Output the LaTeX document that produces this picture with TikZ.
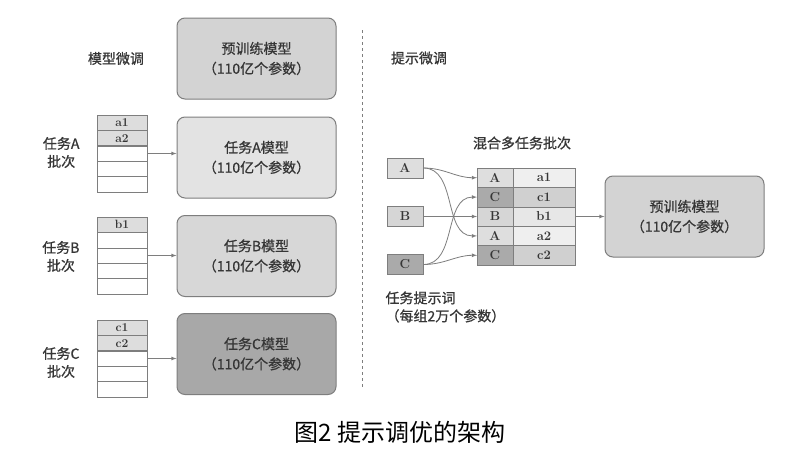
\documentclass[tikz,border=0pt]{standalone}
\usepackage{fontspec}
\newfontfamily\cjk{Noto Sans CJK SC}
\newfontfamily\cjkb[FakeBold=0.8]{Noto Sans CJK SC}
\usetikzlibrary{positioning}

\definecolor{linegray}{HTML}{7E7E7E}
\definecolor{txtgray}{HTML}{363636}
\definecolor{pregray}{HTML}{D3D3D3}
\definecolor{agray}{HTML}{E3E3E3}
\definecolor{bgray}{HTML}{D7D7D7}
\definecolor{cgray}{HTML}{A8A8A8}
\definecolor{cellgray}{HTML}{DDDDDD}
\definecolor{lightkey}{HTML}{DEDEDE}
\definecolor{lightval}{HTML}{EFEFEF}
\definecolor{darkkey}{HTML}{AAAAAA}
\definecolor{darkval}{HTML}{D0D0D0}
\definecolor{midkey}{HTML}{D6D6D6}
\definecolor{midval}{HTML}{E7E7E7}

\begin{document}
\begin{tikzpicture}[%
    x=1pt, y=-1pt,
    node distance=0pt,
    >=latex,
modelnode/.style={rectangle, rounded corners=8pt, align=center, draw=linegray, line width=1pt, text=txtgray, minimum width=159pt, minimum height=81pt, font=\cjkb\fontsize{14}{20}\selectfont},
cellnode/.style={rectangle, draw=linegray, line width=0.6pt, outer sep=0pt, inner sep=0pt, text=txtgray, minimum width=50pt, minimum height=15.4pt, font=\bfseries\fontsize{12}{12}\selectfont},
promptnode/.style={rectangle, draw=linegray, line width=0.8pt, text=txtgray, minimum width=36pt, minimum height=20pt, inner sep=0pt, font=\bfseries\fontsize{13}{13}\selectfont},
keynode/.style={rectangle, draw=linegray, line width=0.6pt, outer sep=0pt, inner sep=0pt, text=txtgray, minimum width=36pt, minimum height=19.4pt, font=\bfseries\fontsize{13}{13}\selectfont},
valnode/.style={rectangle, draw=linegray, line width=0.6pt, outer sep=0pt, inner sep=0pt, text=txtgray, minimum width=62pt, minimum height=19.4pt, font=\bfseries\fontsize{13}{13}\selectfont},
title/.style={align=center, text=txtgray, font=\cjkb\fontsize{14}{18}\selectfont},
link/.style={draw=linegray, line width=0.8pt}
]

\fill[white] (0,0) rectangle (796,453);

% models, left side
\node[modelnode, fill=pregray] (pretrain) at (256.5,58.5) {预训练模型\\（110亿个参数）};
\node[modelnode, fill=agray]   (modela)   at (256.5,157.5) {任务A模型\\（110亿个参数）};
\node[modelnode, fill=bgray]   (modelb)   at (256.5,256) {任务B模型\\（110亿个参数）};
\node[modelnode, fill=cgray]   (modelc)   at (256.5,354) {任务C模型\\（110亿个参数）};

\node[title] (finetune) [left=29pt of pretrain] {模型微调};

% task A batch
\node[cellnode, fill=cellgray] (a1) at (122,122.7) {a1};
\node[cellnode, fill=cellgray] (a2) [below=of a1] {a2};
\node[cellnode] (a3) [below=of a2] {};
\node[cellnode] (a4) [below=of a3] {};
\node[cellnode] (a5) [below=of a4] {};
\draw[linegray, line width=1.6pt] (a2.south west) -- (a2.south east);

% task B batch
\node[cellnode, fill=cellgray] (b1) at (122,224.7) {b1};
\node[cellnode] (b2) [below=of b1] {};
\node[cellnode] (b3) [below=of b2] {};
\node[cellnode] (b4) [below=of b3] {};
\node[cellnode] (b5) [below=of b4] {};
\draw[linegray, line width=1.6pt] (b1.south west) -- (b1.south east);

% task C batch
\node[cellnode, fill=cellgray] (c1) at (122,327.7) {c1};
\node[cellnode, fill=cellgray] (c2) [below=of c1] {c2};
\node[cellnode] (c3) [below=of c2] {};
\node[cellnode] (c4) [below=of c3] {};
\node[cellnode] (c5) [below=of c4] {};
\draw[linegray, line width=1.6pt] (c2.south west) -- (c2.south east);

% batch labels
\node[title] (batcha) [left=14pt of a3, yshift=1pt] {任务A\\批次};
\node[title] (batchb) [left=14pt of b3, yshift=-1pt] {任务B\\批次};
\node[title] (batchc) [left=14pt of c3, yshift=-4pt] {任务C\\批次};

% left lines
\draw[->, link] (a3.east) -- (a3.east -| modela.west);
\draw[->, link] (b3.east) -- (b3.east -| modelb.west);
\draw[->, link] (c3.east) -- (c3.east -| modelc.west);

% divider
\draw[linegray, dashed, line width=0.8pt] (362,30) -- (362,388);

% prompt tuning, right side
\node[title] (prompttune) at (419,58) {提示微调};

\node[promptnode, fill=lightkey] (pa) at (405,168) {A};
\node[promptnode, fill=midkey]   (pb) at (405,216.5) {B};
\node[promptnode, fill=darkkey]  (pc) at (405,264.5) {C};

\node[title, align=left, anchor=west] (prompttext) at (382,307) {任务提示词\\（每组2万个参数）};

% mixed batch
\node[keynode, fill=lightkey] (ka1) at (495,177.7) {A};
\node[keynode, fill=darkkey]  (kc1) [below=of ka1] {C};
\node[keynode, fill=midkey]   (kb1) [below=of kc1] {B};
\node[keynode, fill=lightkey] (ka2) [below=of kb1] {A};
\node[keynode, fill=darkkey]  (kc2) [below=of ka2] {C};
\node[valnode, fill=lightval] (va1) [right=of ka1] {a1};
\node[valnode, fill=darkval]  (vc1) [right=of kc1] {c1};
\node[valnode, fill=midval]   (vb1) [right=of kb1] {b1};
\node[valnode, fill=lightval] (va2) [right=of ka2] {a2};
\node[valnode, fill=darkval]  (vc2) [right=of kc2] {c2};

\node[title] (mixtitle) at (522,143) {混合多任务批次};

% prompt lines
\draw[->, link] (pa.east) to[out=0, in=180] (ka1.west);
\draw[->, link] (pa.east) to[out=0, in=180] (ka2.west);
\draw[->, link] (pb.east) -- (kb1.west);
\draw[->, link] (pc.east) to[out=0, in=180] (kc1.west);
\draw[->, link] (pc.east) to[out=0, in=180] (kc2.west);

% frozen model
\node[modelnode, fill=pregray] (frozen) at (684.5,216.5) {预训练模型\\（110亿个参数）};
\draw[->, link] (vb1.east) -- (vb1.east -| frozen.west);

% caption
\node[font=\cjk\fontsize{24}{26}\selectfont, text=black] (caption) at (400,432) {图2 提示调优的架构};

\end{tikzpicture}
\end{document}
